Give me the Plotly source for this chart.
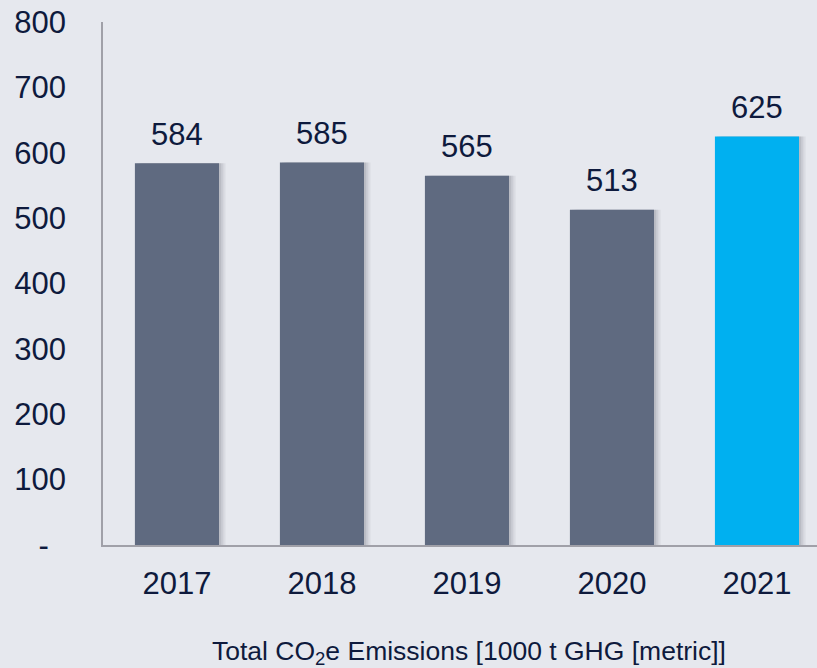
import plotly.graph_objects as go

years = ["2017", "2018", "2019", "2020", "2021"]
emissions = [584, 585, 565, 513, 625]
bar_colors = ["#5f6a80", "#5f6a80", "#5f6a80", "#5f6a80", "#00b0f0"]
y_tickvals = [0, 100, 200, 300, 400, 500, 600, 700, 800]
y_ticktext = ["-\u00a0\u00a0", "100", "200", "300", "400", "500", "600", "700", "800"]

txt = "#0e1a3d"
bg = "#e6e8ee"
font = "Liberation Sans, Arial, sans-serif"

fig = go.Figure()
# soft shadow layers
for off, alpha in [(0.045, 0.06), (0.03, 0.08), (0.015, 0.10)]:
    fig.add_trace(go.Bar(
        x=years, y=emissions, width=0.58, offset=-0.29 + off,
        marker=dict(color=f"rgba(40,40,50,{alpha})", line=dict(width=0)),
        hoverinfo="skip", showlegend=False,
    ))
fig.add_trace(go.Bar(
    x=years, y=emissions, width=0.58, offset=-0.29,
    marker=dict(color=bar_colors, line=dict(width=0)),
    showlegend=False,
))
for i, v in enumerate(emissions):
    fig.add_annotation(
        x=i, xref="x", y=v, yref="y", text=str(v), showarrow=False,
        yanchor="middle", yshift=29,
        font=dict(size=31, color=txt, family=font),
    )
fig.update_layout(
    width=817, height=668,
    paper_bgcolor=bg, plot_bgcolor=bg,
    margin=dict(l=103, r=0, t=22, b=123),
    barmode="overlay",
    font=dict(family=font, color=txt, size=31),
    title=dict(
        text="Total CO<sub>2</sub>e Emissions [1000 t GHG [metric]]",
        x=0.574, xanchor="center", xref="container",
        y=0.026, yanchor="middle", yref="container",
        font=dict(size=26.5, color=txt, family=font),
    ),
    xaxis=dict(
        type="category", range=[-0.51, 4.414],
        showline=True, linecolor="#a0a0a8", linewidth=1.5,
        showgrid=False, zeroline=False, ticks="",
        tickfont=dict(size=31, color=txt), ticklabelstandoff=10,
    ),
    yaxis=dict(
        range=[0, 800], tickvals=y_tickvals, ticktext=y_ticktext,
        showline=True, linecolor="#a0a0a8", linewidth=1.5,
        showgrid=False, zeroline=False, ticks="",
        tickfont=dict(size=31, color=txt), ticklabelstandoff=29,
    ),
)
fig.write_html(
    "out.html",
    config={"displayModeBar": False},
    post_script="document.body.style.margin='0';document.body.style.background='#e6e8ee';",
)
